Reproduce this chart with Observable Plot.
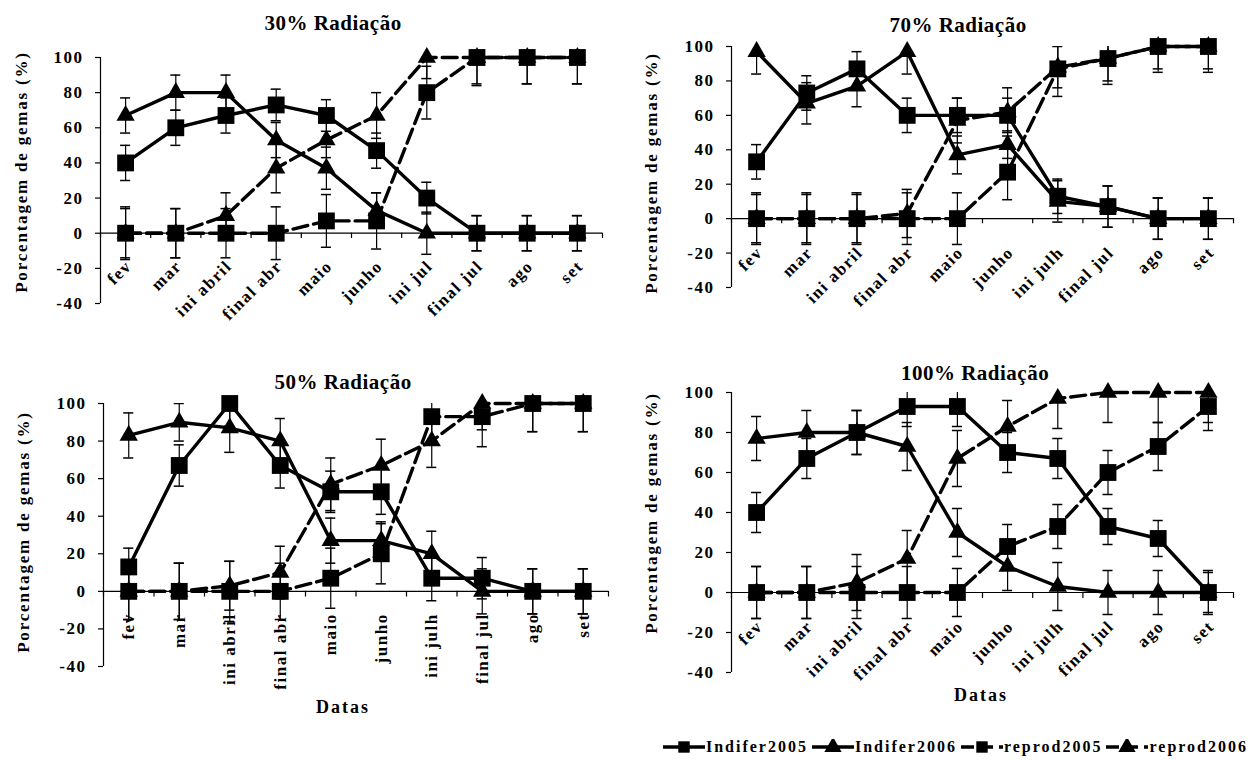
<!DOCTYPE html>
<html><head><meta charset="utf-8">
<script src="https://cdn.jsdelivr.net/npm/d3@7"></script>
<script src="https://cdn.jsdelivr.net/npm/@observablehq/plot@0.6"></script>
<style>
body{margin:0;background:#fff;}
#root{position:relative;width:1258px;height:760px;overflow:hidden;font-family:"Liberation Serif","Times New Roman",serif;font-weight:bold;color:#000;}
.panel{position:absolute;}
.lbl{position:absolute;white-space:nowrap;transform:translate(-50%,-50%);line-height:1;}
#legend{position:absolute;right:6px;top:739px;display:flex;align-items:center;font-size:16px;letter-spacing:2px;white-space:nowrap;line-height:1;}
#legend svg{display:block;margin-right:1px;}
#legend span{margin-right:4px;}
</style></head>
<body><div id="root"></div>
<script>
// ---- categories ----
const months30 = ["fev","mar","ini abril","final abr","maio","junho","ini jul","final jul","ago","set"];
const monthsOther = ["fev","mar","ini abril","final abr","maio","junho","ini julh","final jul","ago","set"];
const seriesNames = ["Indifer2005","Indifer2006","reprod2005","reprod2006"];
const yTicks = [-40,-20,0,20,40,60,80,100];

// ---- 30% Radiação ----
const ind05_30 = [40,60,67,73,67,47,20,0,0,0];
const ind06_30 = [67,80,80,53,37,13,0,0,0,0];
const rep05_30 = [0,0,0,0,7,7,80,100,100,100];
const rep06_30 = [0,0,10,37,53,67,100,100,100,100];
const ind05_30e = [10,10,10,9,9,10,9,10,10,10];
const ind06_30e = [10,10,10,10,12,10,12,10,10,10];
const rep05_30e = [15,14,14,15,15,16,15,16,15,15];
const rep06_30e = [14,14,13,14,10,13,12,15,15,15];

// ---- 70% Radiação ----
const ind05_70 = [33,73,87,60,60,60,13,7,0,0];
const ind06_70 = [97,67,77,97,37,43,10,7,0,0];
const rep05_70 = [0,0,0,0,0,27,87,93,100,100];
const rep06_70 = [0,0,0,3,57,62,88,93,100,100];
const ind05_70e = [10,10,10,10,10,10,10,12,12,12];
const ind06_70e = [13,12,12,13,11,8,12,12,12,12];
const rep05_70e = [15,15,15,15,15,16,16,15,15,15];
const rep06_70e = [14,14,14,14,13,14,12,13,13,13];

// ---- 50% Radiação ----
const ind05_50 = [13,67,100,67,53,53,7,7,0,0];
const ind06_50 = [83,90,87,80,27,27,20,0,0,0];
const rep05_50 = [0,0,0,0,7,20,93,93,100,100];
const rep06_50 = [0,0,3,10,57,67,80,100,100,100];
const ind05_50e = [10,11,12,12,11,12,12,11,12,12];
const ind06_50e = [12,10,13,12,12,10,12,12,12,12];
const rep05_50e = [15,15,16,15,16,16,15,16,15,15];
const rep06_50e = [15,15,13,14,14,14,14,14,15,15];

// ---- 100% Radiação ----
const ind05_100 = [40,67,80,93,93,70,67,33,27,0];
const ind06_100 = [77,80,80,73,30,13,3,0,0,0];
const rep05_100 = [0,0,0,0,0,23,33,60,73,93];
const rep06_100 = [0,0,5,17,67,83,97,100,100,100];
const ind05_100e = [10,10,11,10,10,10,10,9,9,10];
const ind06_100e = [11,11,11,12,12,12,12,11,11,11];
const rep05_100e = [13,13,13,13,12,11,11,11,12,12];
const rep06_100e = [13,13,14,14,14,13,15,15,15,15];

// ---- styling per series ----
const symbols = ["square","triangle","square","triangle"];
const radii = [9.5,6.8,9.5,6.8];
const dashes = [null,null,"15,6","15,6"];

const panels = [
  {title:"30% Radiação", months:months30, vals:[ind05_30,ind06_30,rep05_30,rep06_30], errs:[ind05_30e,ind06_30e,rep05_30e,rep06_30e],
   L:0,T:0,W:620,H:345, x0:100,x10:602,y100:57,ym40:303, rotate:-45, ldx:3, ldy:30,
   titleX:333,titleY:23, ylabX:21, ylabY:172, datas:null},
  {title:"70% Radiação", months:monthsOther, vals:[ind05_70,ind06_70,rep05_70,rep06_70], errs:[ind05_70e,ind06_70e,rep05_70e,rep06_70e],
   L:630,T:0,W:628,H:335, x0:731,x10:1233,y100:46,ym40:287, rotate:-45, ldx:3, ldy:31,
   titleX:958,titleY:25, ylabX:651, ylabY:173, datas:null},
  {title:"50% Radiação", months:monthsOther, vals:[ind05_50,ind06_50,rep05_50,rep06_50], errs:[ind05_50e,ind06_50e,rep05_50e,rep06_50e],
   L:0,T:345,W:620,H:380, x0:103,x10:608,y100:403,ym40:666, rotate:-90, ldx:0, ldy:22,
   titleX:343,titleY:382, ylabX:23, ylabY:532, datas:[343,707]},
  {title:"100% Radiação", months:monthsOther, vals:[ind05_100,ind06_100,rep05_100,rep06_100], errs:[ind05_100e,ind06_100e,rep05_100e,rep06_100e],
   L:630,T:345,W:628,H:375, x0:731,x10:1233,y100:392,ym40:672, rotate:-45, ldx:3, ldy:31,
   titleX:975,titleY:373, ylabX:651, ylabY:513, datas:[981,695]}
];

const root = document.getElementById("root");

function addLabel(text, x, y, size, ls, rot) {
  const d = document.createElement("div");
  d.className = "lbl";
  d.textContent = text;
  d.style.left = x + "px";
  d.style.top = y + "px";
  d.style.fontSize = size + "px";
  d.style.letterSpacing = ls + "px";
  if (rot) d.style.transform = "translate(-50%,-50%) rotate(" + rot + "deg)";
  root.appendChild(d);
}

const capHalf = 0.1;

panels.forEach(p => {
  const rowsBySeries = p.vals.map((vals, s) => vals.map((v, i) => ({s, pos: i + 0.5, v, e: p.errs[s][i]})));
  const marks = [
    Plot.ruleY([0], {stroke: "black", strokeWidth: 1.2}),
    Plot.ruleX([0], {stroke: "black", strokeWidth: 1.2}),
    Plot.axisY(yTicks, {tickSize: 5, tickPadding: 12, tickFormat: d => String(d), fontSize: 17, label: null, strokeWidth: 1.2}),
    Plot.ruleX(d3.range(11), {x: d => d, y1: 0, y2: -3, stroke: "black", strokeWidth: 1.2}),
    Plot.text(p.months, {x: (d, i) => i + 0.5, y: () => 0, text: d => d, rotate: p.rotate, textAnchor: "end",
      dx: p.ldx, dy: p.ldy, fontSize: 17})
  ];
  rowsBySeries.forEach((rows, s) => {
    marks.push(Plot.line(rows, {x: "pos", y: "v", stroke: "black", strokeWidth: 3.4, strokeDasharray: dashes[s] || undefined}));
    marks.push(Plot.ruleX(rows, {x: "pos", y1: d => d.v - d.e, y2: d => d.v + d.e, stroke: "black", strokeWidth: 1.2, clip: true}));
    marks.push(Plot.ruleY(rows, {y: d => d.v + d.e, x1: d => d.pos - capHalf, x2: d => d.pos + capHalf, stroke: "black", strokeWidth: 1.5, clip: true}));
    marks.push(Plot.ruleY(rows, {y: d => d.v - d.e, x1: d => d.pos - capHalf, x2: d => d.pos + capHalf, stroke: "black", strokeWidth: 1.5, clip: true}));
    marks.push(Plot.dot(rows, {x: "pos", y: "v", symbol: symbols[s], r: radii[s], fill: "black", stroke: "none"}));
  });
  const chart = Plot.plot({
    width: p.W, height: p.H,
    marginLeft: p.x0 - p.L, marginRight: p.L + p.W - p.x10,
    marginTop: p.y100 - p.T, marginBottom: p.T + p.H - p.ym40,
    x: {domain: [0, 10], axis: null},
    y: {domain: [-40, 100], label: null},
    style: {fontFamily: '"Liberation Serif","Times New Roman",serif', fontWeight: "bold", background: "transparent",
      letterSpacing: "1.5px", color: "black", overflow: "visible"},
    marks
  });
  const wrap = document.createElement("div");
  wrap.className = "panel";
  wrap.style.left = p.L + "px";
  wrap.style.top = p.T + "px";
  wrap.style.width = p.W + "px";
  wrap.appendChild(chart);
  root.appendChild(wrap);
  addLabel(p.title, p.titleX, p.titleY, 21, 0.5);
  addLabel("Porcentagem de gemas (%)", p.ylabX, p.ylabY, 17, 1.8, -90);
  if (p.datas) addLabel("Datas", p.datas[0], p.datas[1], 18, 2);
});

// ---- legend ----
const legend = document.createElement("div");
legend.id = "legend";
const NS = "http://www.w3.org/2000/svg";
seriesNames.forEach((name, s) => {
  const svg = document.createElementNS(NS, "svg");
  svg.setAttribute("width", 42); svg.setAttribute("height", 16);
  const line = document.createElementNS(NS, "line");
  line.setAttribute("x1", 0); line.setAttribute("x2", 42); line.setAttribute("y1", 8); line.setAttribute("y2", 8);
  line.setAttribute("stroke", "black"); line.setAttribute("stroke-width", 3.4);
  if (dashes[s]) line.setAttribute("stroke-dasharray", "13,6");
  svg.appendChild(line);
  const sym = document.createElementNS(NS, "path");
  sym.setAttribute("d", d3.symbol(symbols[s] === "square" ? d3.symbolSquare : d3.symbolTriangle, 130)());
  sym.setAttribute("transform", "translate(21,8)");
  svg.appendChild(sym);
  const sp = document.createElement("span");
  sp.textContent = name;
  legend.appendChild(svg);
  legend.appendChild(sp);
});
root.appendChild(legend);
</script>
</body></html>
